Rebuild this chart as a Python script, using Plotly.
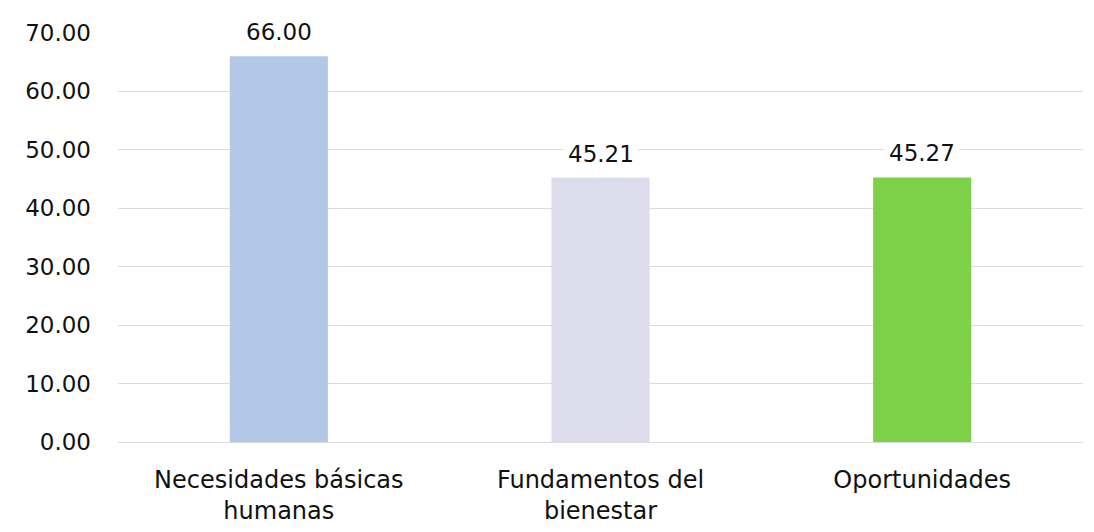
import plotly.graph_objects as go

categories = ["Necesidades básicas<br>humanas", "Fundamentos del<br>bienestar", "Oportunidades"]
values = [66.00, 45.21, 45.27]
bar_colors = ["#b3c8e6", "#dcdcec", "#7dd148"]
tick_vals = [0, 10, 20, 30, 40, 50, 60, 70]
tick_text = ["0.00", "10.00", "20.00", "30.00", "40.00", "50.00", "60.00", "70.00"]

fig = go.Figure(go.Bar(
    x=categories,
    y=values,
    marker=dict(color=bar_colors, line=dict(width=0)),
    width=0.305,
    cliponaxis=False,
))

for c, v in zip(categories, values):
    fig.add_annotation(x=c, y=v, text=f"{v:.2f}", showarrow=False,
                       yanchor="bottom", yshift=6, bgcolor="white", borderpad=4,
                       font=dict(family="DejaVu Sans", size=23, color="#111111"))

fig.update_layout(
    width=1094, height=532,
    margin=dict(l=110, r=19, t=25, b=98, autoexpand=False),
    paper_bgcolor="white", plot_bgcolor="white",
    showlegend=False,
    font=dict(family="DejaVu Sans", size=23, color="#111111"),
    xaxis=dict(showgrid=False, showline=False, ticks="", automargin=False,
               ticklabelstandoff=21, tickfont=dict(size=24)),
    yaxis=dict(range=[0, 70], tickvals=tick_vals, ticktext=tick_text,
               showgrid=True, gridcolor="#dcdcdc", gridwidth=1,
               zeroline=True, zerolinecolor="#dcdcdc", zerolinewidth=1,
               ticks="", ticklabelstandoff=26, automargin=False,
               tickfont=dict(size=23)),
)

fig.write_html("out.html")
